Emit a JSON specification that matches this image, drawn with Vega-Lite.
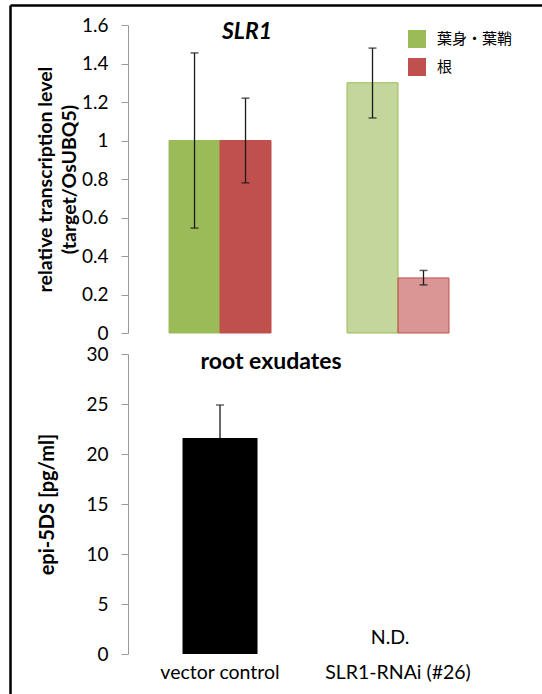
{
  "$schema": "https://vega.github.io/schema/vega-lite/v6.json",
  "width": 532,
  "height": 689,
  "autosize": {"type": "none"},
  "padding": {"left": 10, "top": 5, "right": 0, "bottom": 0},
  "background": "white",
  "config": {
    "view": {"stroke": null},
    "font": "Lato",
    "axis": {"labelFont": "Lato", "titleFont": "Lato", "labelColor": "#000000", "titleColor": "#000000", "grid": false}
  },
  "datasets": {
    "expr": [
      {"genotype": "vector control", "tissue": "葉身・葉鞘", "value": 1.0, "lo": 0.545, "hi": 1.455},
      {"genotype": "vector control", "tissue": "根", "value": 1.0, "lo": 0.78, "hi": 1.22},
      {"genotype": "SLR1-RNAi (#26)", "tissue": "葉身・葉鞘", "value": 1.30, "lo": 1.117, "hi": 1.48},
      {"genotype": "SLR1-RNAi (#26)", "tissue": "根", "value": 0.286, "lo": 0.25, "hi": 0.325}
    ],
    "exud": [
      {"genotype": "vector control", "value": 21.6, "lo": 18.3, "hi": 24.9}
    ],
    "topTitle": [{"genotype": "vector control", "t": "SLR1"}],
    "bottomTitle": [{"genotype": "vector control", "t": "root exudates"}],
    "nd": [{"genotype": "SLR1-RNAi (#26)", "t": "N.D."}]
  },
  "layer": [
    {
      "encoding": {
        "x": {"field": "genotype", "type": "nominal",
              "scale": {"domain": ["vector control", "SLR1-RNAi (#26)"], "paddingInner": 0.427, "paddingOuter": 0.708, "align": 0.631},
              "axis": null}
      },
      "layer": [
        {
          "data": {"name": "expr"},
          "mark": {"type": "bar", "strokeWidth": 1},
          "encoding": {
            "y": {"field": "value", "type": "quantitative",
                  "scale": {"domain": [0, 1.6], "range": [328, 20], "nice": false, "zero": true},
                  "axis": {"orient": "left", "offset": -118, "values": [0, 0.2, 0.4, 0.6, 0.8, 1, 1.2, 1.4, 1.6], "format": ".1~f",
                           "domainColor": "#9a9a9a", "tickColor": "#9a9a9a", "tickSize": 7, "labelFontSize": 19, "labelPadding": 13,
                           "title": ["relative  transcription level", "(target/OsUBQ5)"], "titleFontSize": 19.5, "titleFontWeight": "bold",
                           "titlePadding": 2, "titleLineHeight": 24}},
            "xOffset": {"field": "tissue", "type": "nominal", "sort": ["葉身・葉鞘", "根"], "scale": {"paddingInner": 0, "paddingOuter": 0}},
            "color": {"field": "tissue", "type": "nominal", "sort": ["葉身・葉鞘", "根"],
                      "scale": {"domain": ["葉身・葉鞘", "根"], "range": ["#9BBB59", "#C0504D"]},
                      "legend": {"title": null, "orient": "none", "legendX": 398, "legendY": 25, "symbolType": "square", "symbolSize": 324,
                                 "symbolStrokeWidth": 0, "labelFont": "Noto Sans CJK JP", "labelFontSize": 15, "labelColor": "#000000",
                                 "labelOffset": 11, "rowPadding": 10, "padding": 0}},
            "stroke": {"field": "tissue", "type": "nominal", "scale": {"domain": ["葉身・葉鞘", "根"], "range": ["#9BBB59", "#C0504D"]}, "legend": null},
            "fillOpacity": {"field": "genotype", "type": "nominal", "scale": {"domain": ["vector control", "SLR1-RNAi (#26)"], "range": [1, 0.6]}, "legend": null}
          }
        },
        {
          "data": {"name": "expr"},
          "mark": {"type": "rule", "color": "#1a1a1a", "strokeWidth": 1.3},
          "encoding": {
            "xOffset": {"field": "tissue", "type": "nominal", "sort": ["葉身・葉鞘", "根"], "scale": {"paddingInner": 0, "paddingOuter": 0}},
            "y": {"field": "lo", "type": "quantitative"},
            "y2": {"field": "hi"}
          }
        },
        {
          "data": {"name": "expr"},
          "mark": {"type": "tick", "color": "#1a1a1a", "thickness": 1.5, "size": 8},
          "encoding": {
            "xOffset": {"field": "tissue", "type": "nominal", "sort": ["葉身・葉鞘", "根"], "scale": {"paddingInner": 0, "paddingOuter": 0}},
            "y": {"field": "hi", "type": "quantitative"}
          }
        },
        {
          "data": {"name": "expr"},
          "mark": {"type": "tick", "color": "#1a1a1a", "thickness": 1.5, "size": 8},
          "encoding": {
            "xOffset": {"field": "tissue", "type": "nominal", "sort": ["葉身・葉鞘", "根"], "scale": {"paddingInner": 0, "paddingOuter": 0}},
            "y": {"field": "lo", "type": "quantitative"}
          }
        },
        {
          "data": {"name": "topTitle"},
          "mark": {"type": "text", "fontSize": 23, "fontWeight": "bold", "fontStyle": "italic", "dx": 27, "color": "#000000", "baseline": "middle"},
          "encoding": {
            "y": {"datum": 1.564, "type": "quantitative"},
            "text": {"field": "t", "type": "nominal"}
          }
        }
      ]
    },
    {
      "encoding": {
        "x": {"field": "genotype", "type": "nominal",
              "scale": {"domain": ["vector control", "SLR1-RNAi (#26)"], "paddingInner": 0.427, "paddingOuter": 0.708, "align": 0.631},
              "axis": {"orient": "bottom", "offset": -40, "domain": false, "ticks": false, "labelFontSize": 19.5, "labelPadding": 9,
                       "labelAngle": 0, "title": null, "labelColor": "#000000"}}
      },
      "layer": [
        {
          "data": {"name": "exud"},
          "mark": {"type": "bar", "color": "#000000", "width": 75},
          "encoding": {
            "y": {"field": "value", "type": "quantitative",
                  "scale": {"domain": [0, 30], "range": [649, 349], "nice": false, "zero": true},
                  "axis": {"orient": "left", "offset": -118, "values": [0, 5, 10, 15, 20, 25, 30],
                           "domainColor": "#9a9a9a", "tickColor": "#9a9a9a", "tickSize": 7, "labelFontSize": 19, "labelPadding": 13,
                           "title": "epi-5DS [pg/ml]", "titleFontSize": 20, "titleFontWeight": "bold", "titlePadding": 28}}
          }
        },
        {
          "data": {"name": "exud"},
          "mark": {"type": "rule", "color": "#444444", "strokeWidth": 1.6},
          "encoding": {
            "y": {"field": "value", "type": "quantitative"},
            "y2": {"field": "hi"}
          }
        },
        {
          "data": {"name": "exud"},
          "mark": {"type": "tick", "color": "#333333", "thickness": 1.6, "size": 8},
          "encoding": {
            "y": {"field": "hi", "type": "quantitative"}
          }
        },
        {
          "data": {"name": "bottomTitle"},
          "mark": {"type": "text", "fontSize": 23, "fontWeight": "bold", "dx": 51, "color": "#000000", "baseline": "middle"},
          "encoding": {
            "y": {"datum": 29.2, "type": "quantitative"},
            "text": {"field": "t", "type": "nominal"}
          }
        },
        {
          "data": {"name": "nd"},
          "mark": {"type": "text", "fontSize": 19.5, "dx": -8, "color": "#000000", "baseline": "middle"},
          "encoding": {
            "y": {"datum": 1.6, "type": "quantitative"},
            "text": {"field": "t", "type": "nominal"}
          }
        }
      ]
    },
    {
      "data": {"values": [{"genotype": "vector control", "f": 0}]},
      "mark": {"type": "point", "opacity": 0},
      "encoding": {
        "x": {"field": "genotype", "type": "nominal",
              "scale": {"domain": ["vector control", "SLR1-RNAi (#26)"], "paddingInner": 0.427, "paddingOuter": 0.708, "align": 0.631},
              "axis": {"orient": "top", "offset": 0, "domainColor": "#000000", "domainWidth": 2.5, "ticks": false, "labels": false, "title": null}},
        "y": {"field": "f", "type": "quantitative",
              "scale": {"domain": [0, 1]},
              "axis": {"orient": "left", "offset": 0, "domainColor": "#000000", "domainWidth": 2.5, "ticks": false, "labels": false, "title": null, "grid": false}}
      }
    }
  ],
  "resolve": {
    "scale": {"y": "independent"},
    "axis": {"x": "independent", "y": "independent"}
  }
}
